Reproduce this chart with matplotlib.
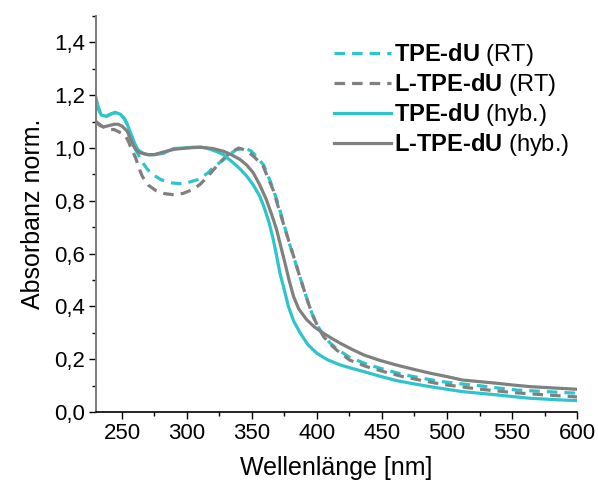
import matplotlib
matplotlib.use('Agg')
import matplotlib.pyplot as plt
from matplotlib.ticker import MultipleLocator, FuncFormatter

plt.rcParams['font.family'] = ['Liberation Sans', 'DejaVu Sans']
plt.rcParams['mathtext.fontset'] = 'custom'
plt.rcParams['mathtext.rm'] = 'Liberation Sans'
plt.rcParams['mathtext.bf'] = 'Liberation Sans:bold'

# TPE-dU (hyb.) - cyan solid
x_tpe_hyb = [230, 231.5, 234, 238, 242, 245, 249, 252, 254, 256, 258, 260, 262, 264.5, 267,
             271, 275, 282, 286, 290, 297, 305, 311, 315, 322, 328, 335.6, 341, 346, 351, 356,
             359, 363, 366.4, 369, 371.5, 375, 378, 382, 387, 393, 400, 408, 418, 427, 436,
             448, 461, 474, 487, 500, 512, 525, 538, 551, 564, 582, 600]
y_tpe_hyb = [1.19, 1.16, 1.125, 1.12, 1.13, 1.135, 1.127, 1.11, 1.09, 1.065, 1.04, 1.015,
             0.995, 0.985, 0.978, 0.974, 0.975, 0.98, 0.99, 0.998, 1.0, 1.003, 1.003, 1.0,
             0.988, 0.975, 0.944, 0.92, 0.893, 0.86, 0.817, 0.78, 0.72, 0.653, 0.59, 0.526,
             0.46, 0.40, 0.345, 0.30, 0.255, 0.222, 0.198, 0.178, 0.165, 0.153, 0.136, 0.119,
             0.107, 0.096, 0.086, 0.077, 0.071, 0.065, 0.058, 0.052, 0.047, 0.043]

# L-TPE-dU (hyb.) - grey solid
x_ltpe_hyb = [230, 233, 236, 240, 244, 247, 250, 254, 256.5, 259, 261.5, 264, 270, 275, 282,
              290, 300, 310, 316, 320, 328, 334, 341, 346, 351, 356, 361, 365, 369, 372,
              375.4, 378.5, 382, 386, 392, 398, 405, 412, 418, 427, 436, 448, 461, 474, 487,
              500, 512, 525, 538, 551, 564, 582, 600]
y_ltpe_hyb = [1.10, 1.085, 1.08, 1.085, 1.09, 1.09, 1.083, 1.064, 1.035, 1.007, 0.99, 0.982,
              0.975, 0.975, 0.985, 0.995, 1.0, 1.003, 1.0, 0.998, 0.988, 0.975, 0.956, 0.935,
              0.906, 0.86, 0.805, 0.75, 0.69, 0.63, 0.564, 0.50, 0.437, 0.39, 0.35, 0.322,
              0.298, 0.277, 0.26, 0.237, 0.216, 0.196, 0.178, 0.162, 0.147, 0.134, 0.121,
              0.115, 0.109, 0.102, 0.096, 0.091, 0.086]

# L-TPE-dU (RT) - grey dashed
x_ltpe_rt = [230, 234, 239, 244, 248, 252, 254.5, 257, 260.5, 263, 265.6, 270, 276, 283, 290,
             297, 304, 310, 315, 320, 325, 330, 335, 340, 346, 352, 358.7, 362, 366.4, 370,
             374, 378, 382, 386, 390, 393.5, 397, 401, 405, 410, 415, 425, 438, 452, 466,
             481, 496, 510, 524, 538, 552, 575, 600]
y_ltpe_rt = [1.10, 1.085, 1.07, 1.07, 1.06, 1.05, 1.03, 1.0, 0.963, 0.925, 0.893, 0.86, 0.839,
             0.827, 0.823, 0.828, 0.842, 0.862, 0.887, 0.915, 0.944, 0.968, 0.988, 1.0, 0.99,
             0.965, 0.93, 0.89, 0.84, 0.78, 0.716, 0.653, 0.59, 0.525, 0.463, 0.41, 0.362,
             0.32, 0.286, 0.258, 0.235, 0.197, 0.172, 0.152, 0.134, 0.119, 0.105, 0.096,
             0.087, 0.080, 0.073, 0.065, 0.057]

# TPE-dU (RT) - cyan dashed
x_tpe_rt = [230, 231.5, 234, 238, 242, 245, 249, 252, 254, 256, 258, 260, 262, 264, 266,
            269.5, 273, 280, 288, 294, 300, 308, 316, 321, 328, 333, 338, 345, 349, 354, 359,
            364, 369, 373.5, 378, 382.5, 387, 391.5, 396, 400, 405, 410, 415, 425, 440, 454,
            468, 482, 496, 510, 524, 539, 554, 577, 600]
y_tpe_rt = [1.17, 1.15, 1.125, 1.12, 1.13, 1.134, 1.127, 1.11, 1.09, 1.055, 1.02, 0.998,
            0.98, 0.96, 0.944, 0.92, 0.902, 0.88, 0.868, 0.865, 0.868, 0.88, 0.905, 0.93,
            0.955, 0.977, 0.994, 0.998, 0.99, 0.965, 0.935, 0.875, 0.805, 0.73, 0.65, 0.58,
            0.51, 0.44, 0.375, 0.33, 0.29, 0.262, 0.24, 0.207, 0.178, 0.158, 0.14, 0.127,
            0.115, 0.107, 0.1, 0.091, 0.083, 0.077, 0.071]

cyan = '#2EC4CC'
grey = '#808080'
lw = 2.3
dash = (3.3, 2.2)

fig = plt.figure(figsize=(5.98, 4.86), dpi=100)
ax = fig.add_axes([0.1605, 0.1523, 0.8044, 0.8147])

l1, = ax.plot(x_tpe_rt, y_tpe_rt, color=cyan, lw=lw, ls=(0, dash))
l2, = ax.plot(x_ltpe_rt, y_ltpe_rt, color=grey, lw=lw, ls=(0, dash))
l3, = ax.plot(x_tpe_hyb, y_tpe_hyb, color=cyan, lw=lw)
l4, = ax.plot(x_ltpe_hyb, y_ltpe_hyb, color=grey, lw=lw)

ax.set_xlim(230, 600)
ax.set_ylim(0, 1.5)
ax.xaxis.set_major_locator(MultipleLocator(50))
ax.xaxis.set_minor_locator(MultipleLocator(25))
ax.yaxis.set_major_locator(MultipleLocator(0.2))
ax.yaxis.set_minor_locator(MultipleLocator(0.1))
ax.yaxis.set_major_formatter(FuncFormatter(lambda v, p: f'{v:.1f}'.replace('.', ',')))

for s in ['top', 'right']:
    ax.spines[s].set_visible(False)
ax.spines['left'].set_color('#7a7a7a')
ax.spines['left'].set_linewidth(1.4)
ax.spines['bottom'].set_linewidth(1.2)
ax.tick_params(which='major', direction='out', length=5, width=1, labelsize=16, pad=3)
ax.tick_params(which='minor', direction='out', length=3, width=1)

ax.set_xlabel('Wellenlänge [nm]', fontsize=18)
ax.set_ylabel('Absorbanz norm.', fontsize=18)
ax.xaxis.set_label_coords(0.5, -0.11)
ax.yaxis.set_label_coords(-0.105, 0.5)

labels = [r'$\mathbf{TPE‐dU}$ (RT)', r'$\mathbf{L‐TPE‐dU}$ (RT)',
          r'$\mathbf{TPE‐dU}$ (hyb.)', r'$\mathbf{L‐TPE‐dU}$ (hyb.)']
ax.legend([l1, l2, l3, l4], labels, loc='upper left',
          bbox_to_anchor=(334 / 598, 1 - 41 / 486), bbox_transform=fig.transFigure,
          frameon=False, fontsize=17, handlelength=2.4, handletextpad=0.15,
          labelspacing=0.13, borderpad=0, borderaxespad=0)

fig.savefig('out.png', dpi=100)
